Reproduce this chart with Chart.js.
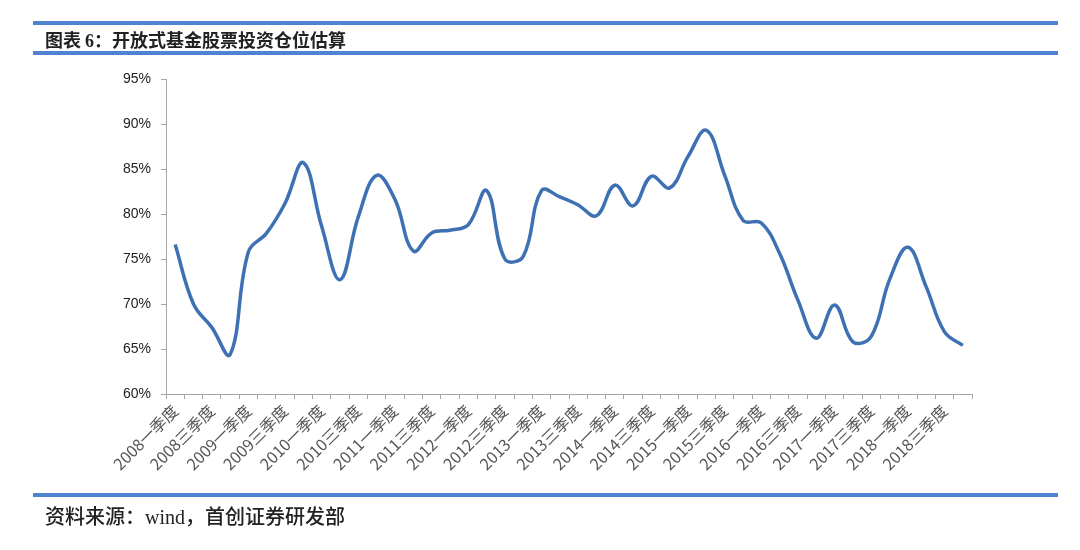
<!DOCTYPE html>
<html>
<head>
<meta charset="utf-8">
<script src="https://cdn.jsdelivr.net/npm/chart.js@4.4.0/dist/chart.umd.min.js"></script>
<style>
  body { margin: 0; background: #fff; }
  #wrap { position: relative; width: 1080px; height: 550px; overflow: hidden; }
  .band { position: absolute; left: 33px; width: 1025px; height: 4px; background: #4f83d1; }
  .txt { position: absolute; font-family: "Noto Sans CJK SC", sans-serif; color: #222; white-space: nowrap; }
  .serif { font-family: "Liberation Serif", serif; }
  canvas { position: absolute; left: 0; top: 0; }
</style>
</head>
<body>
<div id="wrap">
  <canvas id="myChart" width="1080" height="550"></canvas>
  <div class="band" style="top:21px"></div>
  <div class="txt" style="left:45px; top:27px; font-size:18px; font-weight:bold; line-height:24px;">图表 <span class="serif">6</span>：开放式基金股票投资仓位估算</div>
  <div class="band" style="top:51px"></div>
  <div class="band" style="top:493px"></div>
  <div class="txt" style="left:45px; top:503px; font-size:20px; font-weight:500; line-height:26px;">资料来源：<span class="serif">wind</span>，首创证券研发部</div>
</div>
<script>
// quarters 2008 Q1 .. 2018 Q4
var years = ["2008", "2009", "2010", "2011", "2012", "2013", "2014", "2015", "2016", "2017", "2018"];
var quarters = ["一季度", "二季度", "三季度", "四季度"];
var categories = [];
years.forEach(function (y) {
  quarters.forEach(function (q) { categories.push(y + q); });
});

// stock position estimate (%)
var position = [
  76.6, 70.0, 67.4, 64.4, 75.8, 77.9, 81.2, 85.7,
  78.6, 72.7, 79.7, 84.3, 81.6, 75.9, 77.9, 78.2,
  78.8, 82.6, 75.0, 75.3, 82.6, 81.9, 81.0, 79.8,
  83.2, 80.9, 84.2, 82.9, 86.4, 89.3, 84.3, 79.3,
  79.0, 75.6, 70.4, 66.2, 69.9, 65.8, 66.4, 72.7,
  76.3, 71.9, 66.9, 65.4
];

var yTicks = [60, 65, 70, 75, 80, 85, 90, 95];

var ctx = document.getElementById('myChart').getContext('2d');
var chart = new Chart(ctx, {
  type: 'line',
  data: {
    labels: categories,
    datasets: [{
      label: "仓位",
      data: position,
      borderColor: '#3e71b3',
      borderWidth: 3.5,
      pointRadius: 0,
      tension: 0.4,
      fill: false
    }]
  },
  options: {
    responsive: false,
    animation: false,
    layout: { padding: { top: 79, right: 108, left: 0, bottom: 0 } },
    plugins: { legend: { display: false }, tooltip: { enabled: false } },
    scales: {
      x: {
        offset: true,
        afterFit: function (scale) { scale.height = 156; },
        border: { color: '#a6a6a6', width: 1 },
        grid: { offset: true, drawOnChartArea: false, tickLength: 5, color: '#a6a6a6' },
        ticks: {
          autoSkip: false,
          maxRotation: 45,
          minRotation: 45,
          padding: 2,
          color: '#555',
          font: { family: '"Noto Sans CJK SC", sans-serif', size: 16 },
          callback: function (v, i) { return i % 2 === 0 ? categories[i] : ''; }
        }
      },
      y: {
        min: yTicks[0],
        max: yTicks[yTicks.length - 1],
        afterFit: function (scale) { scale.width = 166; },
        afterBuildTicks: function (scale) {
          scale.ticks = yTicks.map(function (v) { return { value: v }; });
        },
        border: { color: '#a6a6a6', width: 1 },
        grid: { drawOnChartArea: false, tickLength: 5, color: '#a6a6a6' },
        ticks: {
          padding: 10,
          color: '#222',
          font: { family: '"Liberation Sans", sans-serif', size: 14 },
          callback: function (v) { return v + '%'; }
        }
      }
    }
  }
});
</script>
</body>
</html>
